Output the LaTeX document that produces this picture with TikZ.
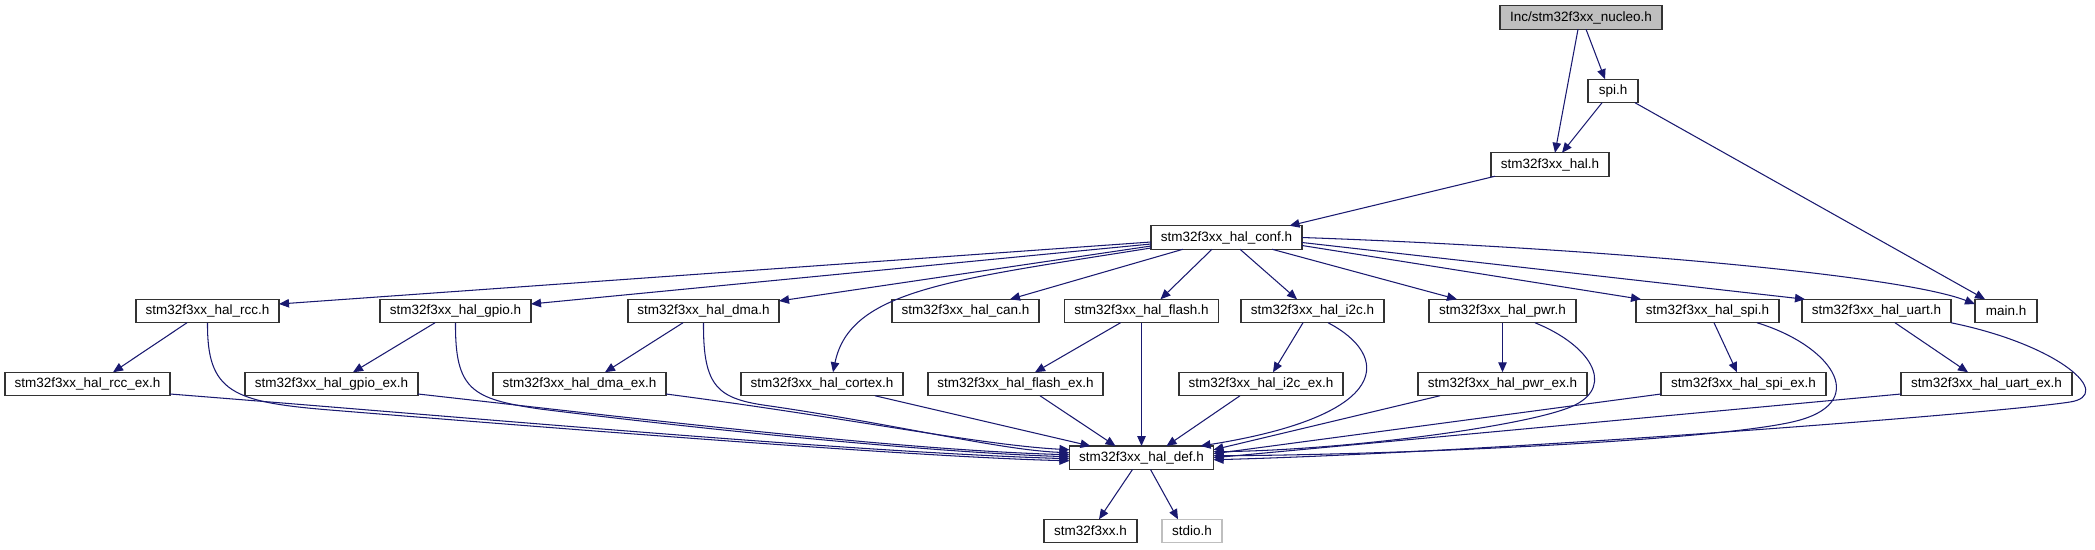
\documentclass[tikz,border=0pt]{standalone}
\usepackage{fontspec}
\setmainfont{Liberation Sans}
\usetikzlibrary{arrows.meta}
\definecolor{edgec}{HTML}{191970}
\definecolor{boxc}{HTML}{333333}
\definecolor{grayfill}{HTML}{BFBFBF}
\begin{document}
\begin{tikzpicture}[x=1pt,y=-1pt,
  box/.style={draw=boxc, line width=1.4pt, rectangle, minimum height=23.5pt, inner sep=0pt, outer sep=0pt,
    font=\fontsize{13.5}{15}\selectfont, fill=white},
  dep/.style={draw=edgec, line width=1.05pt, -{Triangle[length=10pt,width=8.5pt]}, line join=round}]
\fill[white] (0,0) rectangle (2095,549);
\useasboundingbox (0,0) rectangle (2095,549);
% nodes
\node[box, fill=grayfill, minimum width=162pt] (nucleo) at (1581,17.5) {Inc/stm32f3xx\_nucleo.h};
\node[box, minimum width=50pt] (spi) at (1613,91) {spi.h};
\node[box, minimum width=118pt] (hal) at (1550,164.5) {stm32f3xx\_hal.h};
\node[box, minimum width=151pt] (conf) at (1226.5,237.5) {stm32f3xx\_hal\_conf.h};
\node[box, minimum width=143pt] (rcc) at (207.5,311) {stm32f3xx\_hal\_rcc.h};
\node[box, minimum width=151pt] (gpio) at (455.5,311) {stm32f3xx\_hal\_gpio.h};
\node[box, minimum width=151pt] (dma) at (703.5,311) {stm32f3xx\_hal\_dma.h};
\node[box, minimum width=147pt] (can) at (965.5,311) {stm32f3xx\_hal\_can.h};
\node[box, minimum width=154pt] (flash) at (1141.5,311) {stm32f3xx\_hal\_flash.h};
\node[box, minimum width=143pt] (i2c) at (1312.5,311) {stm32f3xx\_hal\_i2c.h};
\node[box, minimum width=147pt] (pwr) at (1502.5,311) {stm32f3xx\_hal\_pwr.h};
\node[box, minimum width=143pt] (hspi) at (1707.5,311) {stm32f3xx\_hal\_spi.h};
\node[box, minimum width=149pt] (uart) at (1876.5,311) {stm32f3xx\_hal\_uart.h};
\node[box, minimum width=62pt] (main) at (2006,311) {main.h};
\node[box, minimum width=165pt] (rccex) at (87.5,384) {stm32f3xx\_hal\_rcc\_ex.h};
\node[box, minimum width=173pt] (gpioex) at (331.5,384) {stm32f3xx\_hal\_gpio\_ex.h};
\node[box, minimum width=173pt] (dmaex) at (579.5,384) {stm32f3xx\_hal\_dma\_ex.h};
\node[box, minimum width=162pt] (cortex) at (822,384) {stm32f3xx\_hal\_cortex.h};
\node[box, minimum width=175pt] (flashex) at (1015.5,384) {stm32f3xx\_hal\_flash\_ex.h};
\node[box, minimum width=164pt] (i2cex) at (1261,384) {stm32f3xx\_hal\_i2c\_ex.h};
\node[box, minimum width=169pt] (pwrex) at (1502.5,384) {stm32f3xx\_hal\_pwr\_ex.h};
\node[box, minimum width=165pt] (spiex) at (1743.5,384) {stm32f3xx\_hal\_spi\_ex.h};
\node[box, minimum width=171pt] (uartex) at (1986.5,384) {stm32f3xx\_hal\_uart\_ex.h};
\node[box, minimum width=144pt] (def) at (1141.5,457.75) {stm32f3xx\_hal\_def.h};
\node[box, minimum width=93pt] (f3) at (1090.5,531) {stm32f3xx.h};
\node[box, draw=grayfill, minimum width=60pt] (stdio) at (1192,531) {stdio.h};
% top edges
\draw[dep] ([xshift=-3pt]nucleo.south) -- ([xshift=5pt]hal.north);
\draw[dep] ([xshift=5pt]nucleo.south) -- ([xshift=-8pt]spi.north);
\draw[dep] ([xshift=-11pt]spi.south) -- ([xshift=12pt]hal.north);
\draw[dep] ([xshift=-3pt]spi.south east) -- ([xshift=10pt]main.north west);
\draw[dep] ([xshift=-55pt]hal.south) -- ([xshift=63pt]conf.north);
% conf fan-out
\draw[dep] ([yshift=-4.5pt]conf.west) -- ([yshift=7pt]rcc.east);
\draw[dep] ([yshift=-6.5pt]conf.west) -- ([yshift=7pt]gpio.east);
\draw[dep] ([yshift=-8.5pt]conf.west) -- ([yshift=10pt]dma.east);
\draw[dep] ([yshift=-10.5pt]conf.west) .. controls (950,280) and (850,290) .. ([xshift=11pt]cortex.north);
\draw[dep] ([xshift=-43.5pt]conf.south) -- ([xshift=44.5pt]can.north);
\draw[dep] ([xshift=-14.5pt]conf.south) -- ([xshift=19pt]flash.north);
\draw[dep] ([xshift=13.5pt]conf.south) -- ([xshift=-15.5pt]i2c.north);
\draw[dep] ([xshift=45.5pt]conf.south) -- ([xshift=-45.5pt]pwr.north);
\draw[dep] ([yshift=-8pt]conf.east) -- ([xshift=5pt]hspi.north west);
\draw[dep] ([yshift=-5pt]conf.east) -- ([xshift=3pt]uart.north west);
\draw[dep] ([yshift=0pt]conf.east) .. controls (1600,248) and (1900,275) .. ([yshift=7pt]main.west);
% row 2 to row 3
\draw[dep] ([xshift=-20.5pt]rcc.south) -- ([xshift=25.5pt]rccex.north);
\draw[dep] ([xshift=-20.5pt]gpio.south) -- ([xshift=21.5pt]gpioex.north);
\draw[dep] ([xshift=-20.5pt]dma.south) -- ([xshift=25.5pt]dmaex.north);
\draw[dep] ([xshift=-21pt]flash.south) -- ([xshift=19.5pt]flashex.north);
\draw[dep] ([xshift=-9.5pt]i2c.south) -- ([xshift=12pt]i2cex.north);
\draw[dep] (pwr.south) -- (pwrex.north);
\draw[dep] ([xshift=6.5pt]hspi.south) -- ([xshift=-6.5pt]spiex.north);
\draw[dep] ([xshift=18.5pt]uart.south) -- ([xshift=-18.5pt]uartex.north);
% into def from the left
\draw[dep] (rcc.south) .. controls (207,392) and (232,402) .. (330,410) .. controls (700,440) and (950,458) .. ([yshift=-3pt]def.west);
\draw[dep] ([yshift=-10pt]rccex.east) .. controls (500,420) and (850,452) .. ([yshift=-1pt]def.west);
\draw[dep] (gpio.south) .. controls (455,390) and (472,399) .. (540,409) .. controls (750,435) and (950,453) .. ([yshift=1pt]def.west);
\draw[dep] ([yshift=-10pt]gpioex.east) .. controls (650,420) and (900,450) .. ([yshift=3pt]def.west);
\draw[dep] (dma.south) .. controls (703,388) and (718,399) .. (770,406) .. controls (900,425) and (1000,450) .. ([yshift=5pt]def.west);
\draw[dep] ([yshift=-10pt]dmaex.east) .. controls (850,418) and (980,445) .. ([yshift=8pt]def.west);
\draw[dep] ([xshift=53pt]cortex.south) -- ([xshift=21pt]def.north west);
\draw[dep] ([xshift=24.5pt]flashex.south) -- ([xshift=46pt]def.north west);
\draw[dep] (flash.south) -- (def.north);
\draw[dep] ([xshift=-21pt]i2cex.south) -- ([xshift=25pt]def.north);
% into def from the right
\draw[dep] ([xshift=15.5pt]i2c.south) .. controls (1390,355) and (1395,415) .. ([xshift=-13pt]def.north east);
\draw[dep] ([xshift=-62.5pt]pwrex.south) -- ([yshift=8pt]def.east);
\draw[dep] ([xshift=32.5pt]pwr.south) .. controls (1590,345) and (1615,385) .. (1575,405) .. controls (1535,425) and (1350,450) .. ([yshift=6pt]def.east);
\draw[dep] ([yshift=-10pt]spiex.west) -- ([yshift=4pt]def.east);
\draw[dep] ([xshift=49.5pt]hspi.south) .. controls (1830,345) and (1870,400) .. (1800,420) .. controls (1730,440) and (1400,455) .. ([yshift=2pt]def.east);
\draw[dep] ([yshift=-10pt]uartex.west) -- ([yshift=0pt]def.east);
\draw[dep] (uart.south east) .. controls (2060,345) and (2115,395) .. (2070,402) .. controls (2000,413) and (1500,452) .. ([yshift=-2pt]def.east);
% bottom
\draw[dep] ([xshift=-9pt]def.south) -- ([xshift=8.5pt]f3.north);
\draw[dep] ([xshift=9pt]def.south) -- ([xshift=-14pt]stdio.north);
\end{tikzpicture}
\end{document}
